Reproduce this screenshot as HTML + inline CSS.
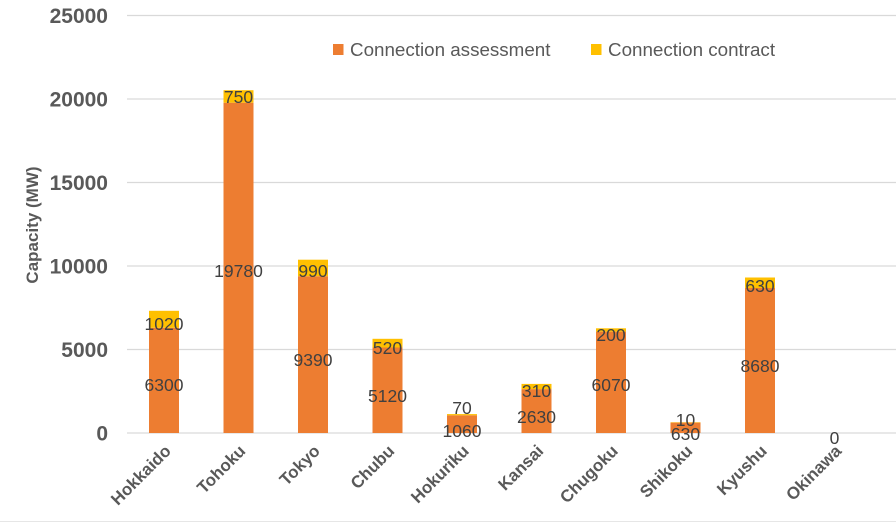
<!DOCTYPE html>
<html><head><meta charset="utf-8"><style>
html,body{margin:0;padding:0;background:#fff;}
svg{display:block;font-family:"Liberation Sans",sans-serif;}
</style></head><body>
<svg width="896" height="530" viewBox="0 0 896 530" xmlns="http://www.w3.org/2000/svg">
<rect width="896" height="530" fill="#fff"/>
<g stroke="#d9d9d9" stroke-width="1.2">
<line x1="127" x2="896" y1="15.5" y2="15.5"/>
<line x1="127" x2="896" y1="99" y2="99"/>
<line x1="127" x2="896" y1="182.5" y2="182.5"/>
<line x1="127" x2="896" y1="266" y2="266"/>
<line x1="127" x2="896" y1="349.5" y2="349.5"/>
<line x1="127" x2="896" y1="433" y2="433"/>
</g>
<line x1="0" x2="896" y1="521.5" y2="521.5" stroke="#e6e6e6"/>
<g fill="#595959" font-size="21" font-weight="bold" text-anchor="end">
<text x="108" y="23">25000</text>
<text x="108" y="106.5">20000</text>
<text x="108" y="190">15000</text>
<text x="108" y="273.5">10000</text>
<text x="108" y="357">5000</text>
<text x="108" y="440.5">0</text>
</g>
<text transform="translate(38,225) rotate(-90)" fill="#595959" font-size="17" font-weight="bold" text-anchor="middle">Capacity (MW)</text>
<g fill="#ED7D31">
<rect x="149" y="327.8" width="30" height="105.2"/>
<rect x="223.5" y="102.7" width="30" height="330.3"/>
<rect x="298" y="276.2" width="30" height="156.8"/>
<rect x="372.5" y="347.5" width="30" height="85.5"/>
<rect x="447" y="415.3" width="30" height="17.7"/>
<rect x="521.5" y="389.1" width="30" height="43.9"/>
<rect x="596" y="331.6" width="30" height="101.4"/>
<rect x="670.5" y="422.5" width="30" height="10.5"/>
<rect x="745" y="288" width="30" height="145"/>
</g>
<g fill="#FFC000">
<rect x="149" y="310.8" width="30" height="17"/>
<rect x="223.5" y="90.2" width="30" height="12.5"/>
<rect x="298" y="259.7" width="30" height="16.5"/>
<rect x="372.5" y="338.8" width="30" height="8.7"/>
<rect x="447" y="414.1" width="30" height="1.2"/>
<rect x="521.5" y="383.9" width="30" height="5.2"/>
<rect x="596" y="328.3" width="30" height="3.3"/>
<rect x="670.5" y="422.3" width="30" height="0.4"/>
<rect x="745" y="277.5" width="30" height="10.5"/>
</g>
<g fill="#404040" font-size="17.5" text-anchor="middle">
<text x="164" y="391">6300</text><text x="164" y="330">1020</text>
<text x="238.5" y="277">19780</text><text x="238.5" y="103">750</text>
<text x="313" y="366">9390</text><text x="313" y="277">990</text>
<text x="387.5" y="402">5120</text><text x="387.5" y="354">520</text>
<text x="462" y="437">1060</text><text x="462" y="414">70</text>
<text x="536.5" y="423">2630</text><text x="536.5" y="397">310</text>
<text x="611" y="391">6070</text><text x="611" y="341">200</text>
<text x="685.5" y="440">630</text><text x="685.5" y="426">10</text>
<text x="760" y="372">8680</text><text x="760" y="292">630</text>
<text x="834.5" y="444">0</text>
</g>
<g fill="#595959" font-size="17" font-weight="bold" text-anchor="end">
<text transform="translate(172,452) rotate(-45)">Hokkaido</text>
<text transform="translate(246.5,452) rotate(-45)">Tohoku</text>
<text transform="translate(321,452) rotate(-45)">Tokyo</text>
<text transform="translate(395.5,452) rotate(-45)">Chubu</text>
<text transform="translate(470,452) rotate(-45)">Hokuriku</text>
<text transform="translate(544.5,452) rotate(-45)">Kansai</text>
<text transform="translate(619,452) rotate(-45)">Chugoku</text>
<text transform="translate(693.5,452) rotate(-45)">Shikoku</text>
<text transform="translate(768,452) rotate(-45)">Kyushu</text>
<text transform="translate(842.5,452) rotate(-45)">Okinawa</text>
</g>
<rect x="333" y="44" width="10.5" height="11" fill="#ED7D31"/>
<text x="350" y="56" fill="#595959" font-size="18.8">Connection assessment</text>
<rect x="591" y="44" width="10.5" height="11" fill="#FFC000"/>
<text x="608" y="56" fill="#595959" font-size="18.8">Connection contract</text>
</svg>
</body></html>
